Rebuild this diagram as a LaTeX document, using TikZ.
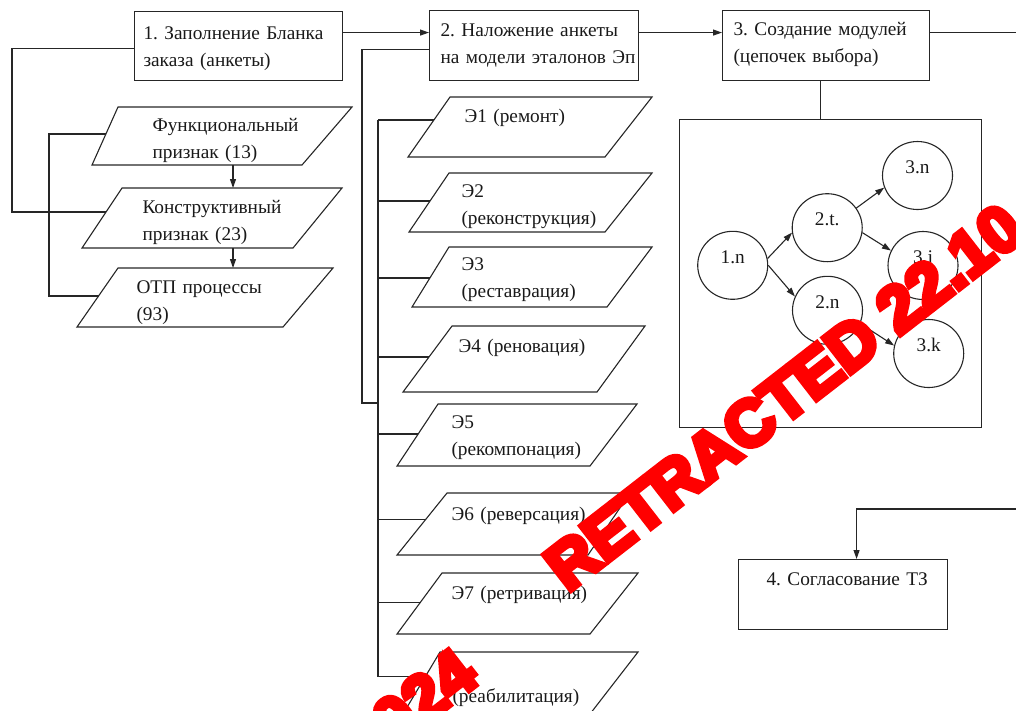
\documentclass[tikz,border=0pt]{standalone}
\usepackage{fontspec}
\setmainfont{Liberation Serif}
\newfontfamily\wmfont[BoldFeatures={FakeBold=8.5}]{Liberation Sans}
\usetikzlibrary{arrows.meta,shapes.geometric,calc}
\frenchspacing
\newcommand\pgram[8]{%
  \coordinate (#1-tl) at (#2,#6);
  \coordinate (#1-tr) at (#3,#6);
  \coordinate (#1-bl) at (#4,#7);
  \coordinate (#1-br) at (#5,#7);
  \draw (#1-tl) -- (#1-tr) -- (#1-br) -- (#1-bl) -- cycle;
  \coordinate (#1-in) at ($(#1-tl)!#8!(#1-bl)$);
}
\begin{document}
\begin{tikzpicture}[x=1pt,y=-1pt,line width=1.1pt,draw=black!85,
  every node/.style={font=\fontsize{19.3}{27}\selectfont\frenchspacing,text=black!90},
  box/.style={draw,rectangle,inner sep=0pt,anchor=north west},
  txt/.style={anchor=base west,inner sep=0pt,align=left,text width=230pt},
  circ/.style={draw,ellipse,minimum width=70pt,minimum height=68pt,inner sep=0pt,text height=13pt,text depth=17pt},
  arr/.style={-{Triangle[length=9pt,width=6pt]}},
  wm/.style={font=\wmfont\bfseries\fontsize{65}{65}\selectfont,text=red,rotate=37.8,inner sep=0pt}]
\useasboundingbox (0,0) rectangle (1016,710);
\clip (0,0) rectangle (1016,710);

% main boxes
\node[box,minimum width=208pt,minimum height=69pt] (b1) at (134,11) {};
\node[box,minimum width=209pt,minimum height=70pt] (b2) at (429,10) {};
\node[box,minimum width=207pt,minimum height=70pt] (b3) at (722,10) {};
\node[box,minimum width=209pt,minimum height=70pt] (b4) at (738,559) {};
\node[box,minimum width=302pt,minimum height=308pt] (bb) at (679,119) {};

\node[txt] (t1) at (143,39) {1. Заполнение Бланка\\заказа (анкеты)};
\node[txt] (t2) at (440,36) {2. Наложение анкеты\\на модели эталонов Эп};
\node[txt] (t3) at (733,35) {3. Создание модулей\\(цепочек выбора)};
\node[txt] (t4) at (766,585) {4. Согласование ТЗ};

% top flow
\coordinate (out3) at (1020,0);
\coordinate (in4) at (1020,509);
\draw[arr] ([yshift=13.5pt]b1.east) -- ([yshift=13.5pt]b1.east -| b2.west);
\draw[arr] ([yshift=13pt]b2.east) -- ([yshift=13pt]b2.east -| b3.west);
\draw ([yshift=13pt]b3.east) -- ([yshift=13pt]b3.east -| out3);
\draw[arr] (in4) -| ([xshift=13.5pt]b4.north);
\draw ([xshift=-5.5pt]b3.south) -- ([xshift=-5.5pt]b3.south |- bb.north);

% left column
\pgram{p1}{118}{352}{92}{302}{107}{165}{0.466}
\pgram{p2}{122}{342}{82}{293}{188}{248}{0.4}
\pgram{p3}{118}{333}{77}{283}{268}{327}{0.475}
\node[txt] (p1t) at (152,131) {Функциональный\\признак (13)};
\node[txt] (p2t) at (142,213) {Конструктивный\\признак (23)};
\node[txt] (p3t) at (136,293) {ОТП процессы\\(93)};
\coordinate (pc) at (233,0);
\draw[arr] (p1-bl -| pc) -- (p2-tl -| pc);
\draw[arr] (p2-bl -| pc) -- (p3-tl -| pc);
\coordinate (L1) at (12,0);
\coordinate (L2) at (49,0);
\draw ([yshift=-2.5pt]b1.west) -| (p2-in -| L1) -- (p2-in);
\draw (p1-in) -| (p3-in -| L2) -- (p3-in);

% middle column
\pgram{e1}{450}{652}{408}{605}{97}{157}{0.383}
\pgram{e2}{449}{652}{409}{605}{173}{232}{0.475}
\pgram{e3}{449}{652}{412}{607}{247}{307}{0.517}
\pgram{e4}{452}{645}{403}{597}{326}{392}{0.47}
\pgram{e5}{438}{637}{397}{590}{404}{466}{0.484}
\pgram{e6}{447}{630}{397}{588}{493}{555}{0.42}
\pgram{e7}{442}{638}{397}{590}{573}{634}{0.49}
\pgram{e8}{440}{638}{403}{590}{652}{714}{0.40}
\node[txt] (e1t) at (464,122) {Э1 (ремонт)};
\node[txt] (e2t) at (461,197) {Э2\\(реконструкция)};
\node[txt] (e3t) at (461,270) {Э3\\(реставрация)};
\node[txt] (e4t) at (458,352) {Э4 (реновация)};
\node[txt] (e5t) at (451,428) {Э5\\(рекомпонация)};
\node[txt] (e6t) at (451,520) {Э6 (реверсация)};
\node[txt] (e7t) at (451,599) {Э7 (ретривация)};
\node[txt] (e8t) at (452,702) {(реабилитация)};
\coordinate (trk) at (378,0);
\coordinate (m1) at (362,403);
\draw (e1-in -| trk) -- (e8-in -| trk);
\foreach \e in {e1,e2,e3,e4,e5,e6,e7,e8} \draw (\e-in -| trk) -- (\e-in);
\draw ([yshift=-4pt]b2.west) -| (m1) -- (m1 -| trk);

% modules graph
\node[circ] (c1n) at (732.7,265.3) {1.n};
\node[circ] (c2t) at (827.2,227.7) {2.t.};
\node[circ] (c2n) at (827.5,310.3) {2.n};
\node[circ] (c3n) at (917.5,175.5) {3.n};
\node[circ] (c3j) at (923,265.5) {3.j};
\node[circ] (c3k) at (928.7,353.5) {3.k};
\draw[arr] (c1n.11) -- (c2t.188);
\draw[arr] (c1n.0) -- (c2n.157);
\draw[arr] (c2t.34) -- (c3n.200);
\draw[arr] (c2t.352) -- (c3j.155);
\draw[arr] (c2n.338) -- (c3k.167);

% watermark
\node[wm] (wm1) at (848,347) {RETRACTED 22.10.2024};
\node[wm] (wm2) at (410,708) {2024};
\end{tikzpicture}
\end{document}
